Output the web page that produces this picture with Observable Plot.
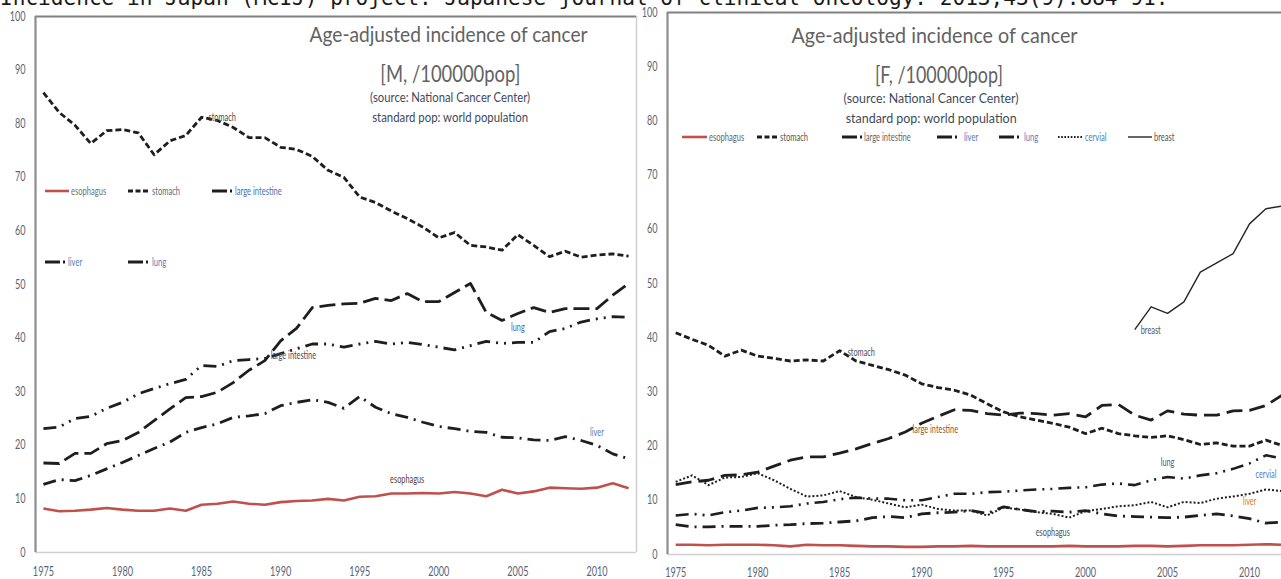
<!DOCTYPE html>
<html><head><meta charset="utf-8">
<script src="https://cdn.jsdelivr.net/npm/d3@7"></script>
<script src="https://cdn.jsdelivr.net/npm/@observablehq/plot@0.6"></script>
<style>
html,body{margin:0;padding:0;overflow:hidden;background:#fff;}
#page{position:relative;width:1281px;height:579px;overflow:hidden;background:#fff;}
.panel{position:absolute;top:0;}
.cite{position:absolute;left:0;top:-13px;font-family:"DejaVu Sans Mono",monospace;font-size:21.1px;line-height:21.1px;white-space:nowrap;color:#1a1a1a;}
.tline{position:absolute;white-space:nowrap;text-align:center;font-family:Lato,"Open Sans",sans-serif;}
.tline span{display:inline-block;transform-origin:50% 50%;}
.leg{position:absolute;display:flex;align-items:center;height:10px;font-family:Lato,sans-serif;font-size:10.5px;white-space:nowrap;}
.leg span{display:inline-block;transform:scaleX(0.72);transform-origin:0 50%;line-height:10px;margin-left:2px;}
.leg svg{display:block;}
</style></head>
<body><div id="page"></div>
<script>
// ---------- data ----------
const years = [1975,1976,1977,1978,1979,1980,1981,1982,1983,1984,1985,1986,1987,1988,1989,1990,1991,1992,1993,1994,1995,1996,1997,1998,1999,2000,2001,2002,2003,2004,2005,2006,2007,2008,2009,2010,2011,2012];
const breastYears = [2003,2004,2005,2006,2007,2008,2009,2010,2011,2012];
const xTicks = [1975,1980,1985,1990,1995,2000,2005,2010];
const yTicks = [0,10,20,30,40,50,60,70,80,90,100];

// Male (per 100,000)
const maleEsophagus = [8.2,7.7,7.8,8.0,8.3,8.0,7.8,7.8,8.2,7.8, 8.9,9.1,9.5,9.1,8.9,9.4,9.6,9.7,10.0,9.7, 10.4,10.5,11.0,11.0,11.1,11.0,11.3,11.0,10.5,11.7, 11.0,11.4,12.1,12.0,11.9,12.1,12.9,12.0];
const maleStomach = [85.8,82.1,79.7,76.3,78.7,78.9,78.3,74.2,76.8,77.8, 81.2,80.6,79.3,77.4,77.4,75.6,75.2,73.9,71.3,70.0, 66.3,65.3,63.7,62.3,60.7,58.7,59.7,57.3,57.0,56.4, 59.3,57.3,55.2,56.2,55.1,55.5,55.7,55.3];
const maleLargeIntestine = [23.1,23.4,25.0,25.4,26.9,28.0,29.6,30.6,31.5,32.3, 34.9,34.7,35.8,36.0,36.2,37.1,38.0,38.9,38.9,38.3, 38.9,39.4,38.9,39.2,38.8,38.3,37.8,38.6,39.4,39.0, 39.2,39.2,41.2,41.8,43.0,43.6,44.0,43.9];
const maleLiver = [12.7,13.6,13.4,14.4,15.6,16.8,18.1,19.4,20.6,22.4, 23.3,24.0,25.2,25.5,25.9,27.4,28.0,28.5,28.0,26.9, 29.1,27.1,25.9,25.2,24.3,23.5,23.1,22.6,22.4,21.5, 21.4,21.0,20.9,21.6,20.9,20.0,18.4,17.5];
const maleLung = [16.7,16.6,18.5,18.5,20.3,20.9,22.4,24.6,26.8,28.9, 29.1,29.9,31.7,34.0,35.8,39.5,41.8,45.7,46.1,46.4, 46.5,47.4,47.0,48.3,46.8,46.8,48.5,50.2,44.8,43.3, 44.6,45.7,44.8,45.5,45.5,45.5,48.0,50.2];

// Female (per 100,000)
const femaleEsophagus = [1.8,1.8,1.7,1.8,1.8,1.8,1.7,1.5,1.8,1.7, 1.7,1.6,1.5,1.5,1.4,1.4,1.5,1.5,1.6,1.5, 1.5,1.5,1.5,1.5,1.6,1.5,1.5,1.5,1.6,1.6, 1.5,1.6,1.7,1.7,1.7,1.8,1.9,1.8];
const femaleStomach = [40.9,39.7,38.6,36.6,37.7,36.6,36.2,35.7,35.9,35.7, 37.6,35.7,34.9,34.1,33.1,31.5,30.8,30.3,29.4,27.8, 26.3,25.4,24.8,24.2,23.5,22.3,23.3,22.3,21.9,21.6, 21.9,21.2,20.3,20.6,20.0,20.0,21.1,20.1];
const femaleLargeIntestine = [12.9,13.4,13.7,14.6,14.7,15.2,16.3,17.4,18.0,18.0, 18.7,19.5,20.5,21.4,22.6,24.2,25.5,26.7,26.6,26.0, 25.7,26.1,26.0,25.7,26.0,25.4,27.5,27.7,25.7,24.8, 26.5,25.9,25.7,25.7,26.5,26.6,27.5,29.4];
const femaleLiver = [5.5,5.1,5.1,5.2,5.2,5.2,5.4,5.5,5.7,5.8, 6.0,6.2,6.8,7.0,6.8,7.5,7.7,7.8,8.1,7.6, 8.8,8.3,7.9,8.0,7.8,8.1,7.5,7.1,7.0,6.9, 6.8,6.9,7.2,7.5,7.1,6.6,5.8,6.0];
const femaleLung = [7.2,7.5,7.2,7.8,8.1,8.6,8.7,8.9,9.4,9.7, 10.2,10.5,10.3,10.3,10.0,10.0,10.6,11.2,11.2,11.5, 11.6,11.8,12.0,12.1,12.3,12.4,12.9,13.1,12.8,13.7, 14.3,14.0,14.6,15.0,15.8,16.8,18.3,17.7];
const femaleCervical = [13.4,14.6,12.8,14.2,14.3,15.0,13.7,12.1,10.7,10.9, 11.7,10.6,10.1,9.4,8.7,9.2,8.4,8.1,8.1,7.2, 8.7,8.3,7.8,7.5,6.8,8.0,8.4,8.9,9.1,9.7, 8.7,9.7,9.5,10.3,10.7,11.2,12.0,11.7];
const femaleBreast = [41.5,45.7,44.5,46.6,52.1,53.8,55.5,61.0,63.8,64.3];

const citation = "Incidence in Japan (MCIJ) project. Japanese journal of clinical oncology. 2013;43(9):884-91.";
const titleM = ["Age-adjusted incidence of cancer", "[M, /100000pop]", "(source: National Cancer Center)", "standard pop: world population"];
const titleF = ["Age-adjusted incidence of cancer", "[F, /100000pop]", "(source: National Cancer Center)", "standard pop: world population"];

// ---------- series definitions ----------
const maleSeries = [
  {key: "esophagus", values: maleEsophagus},
  {key: "stomach", values: maleStomach},
  {key: "large intestine", values: maleLargeIntestine},
  {key: "liver", values: maleLiver},
  {key: "lung", values: maleLung}
];
const femaleSeries = [
  {key: "esophagus", values: femaleEsophagus},
  {key: "stomach", values: femaleStomach},
  {key: "large intestine", values: femaleLargeIntestine},
  {key: "liver", values: femaleLiver},
  {key: "lung", values: femaleLung},
  {key: "cervial", values: femaleCervical},
  {key: "breast", values: femaleBreast, years: breastYears}
];

// ---------- styles ----------
const INK = "#1e1e1e", RED = "#c0504d";
const styleM = {
  "esophagus": {stroke: RED, width: 2.6, dash: null},
  "stomach": {stroke: INK, width: 2.8, dash: "6,3"},
  "large intestine": {stroke: INK, width: 2.8, dash: "13,6,2,6,2,6"},
  "liver": {stroke: INK, width: 2.8, dash: "13,6,2,6"},
  "lung": {stroke: INK, width: 2.8, dash: "16,6"}
};
const styleF = {
  "esophagus": {stroke: RED, width: 2.6, dash: null},
  "stomach": {stroke: INK, width: 2.8, dash: "6,3"},
  "large intestine": {stroke: INK, width: 2.8, dash: "16,7"},
  "liver": {stroke: INK, width: 2.8, dash: "13,6,2,6"},
  "lung": {stroke: INK, width: 2.6, dash: "13,6,2,6,2,6"},
  "cervial": {stroke: INK, width: 2.0, dash: "2,2"},
  "breast": {stroke: "#262626", width: 1.4, dash: null}
};
const legendDash = {
  "esophagus": {stroke: RED, width: 2.6, dash: null},
  "stomach": {stroke: INK, width: 3, dash: "5,2.5"},
  "large intestine": {stroke: INK, width: 3, dash: "15,3,2,20"},
  "liver": {stroke: INK, width: 3, dash: "15,3,2,20"},
  "lung": {stroke: INK, width: 3, dash: "15,3,2,20"},
  "cervial": {stroke: INK, width: 1.8, dash: "1.6,1.6"},
  "breast": {stroke: "#262626", width: 1.4, dash: null}
};

const labelsM = [
  {text: "stomach", key: "stomach", year: 1985, anchor: "start", dx: 7, dy: 0, fill: "#4a4a4a"},
  {text: "lung", key: "lung", year: 2005, anchor: "middle", dx: 0, dy: 14, fill: "#4a68a0"},
  {text: "large intestine", key: "large intestine", year: 1990, anchor: "start", dx: -10, dy: 2, fill: "#3d4c6e"},
  {text: "liver", key: "liver", year: 2010, anchor: "middle", dx: 0, dy: -13, fill: "#4f81bd"},
  {text: "esophagus", key: "esophagus", year: 1998, anchor: "middle", dx: 0, dy: -14, fill: "#5a4035"}
];
const labelsF = [
  {text: "stomach", key: "stomach", year: 1985, anchor: "start", dx: 8, dy: 2, fill: "#505050"},
  {text: "large intestine", key: "large intestine", year: 1990, anchor: "start", dx: -9, dy: 6, fill: "#8a5a3a"},
  {text: "breast", key: "breast", year: 2003, anchor: "start", dx: 6, dy: 1, fill: "#4a5570"},
  {text: "lung", key: "lung", year: 2005, anchor: "middle", dx: 0, dy: -14, fill: "#4d5a85"},
  {text: "cervial", key: "cervial", year: 2011, anchor: "middle", dx: 0, dy: -15, fill: "#4f81bd"},
  {text: "liver", key: "liver", year: 2010, anchor: "middle", dx: 0, dy: -17, fill: "#d98030"},
  {text: "esophagus", key: "esophagus", year: 1998, anchor: "middle", dx: 0, dy: -14, fill: "#505050"}
];

// ---------- helpers ----------
const page = document.getElementById("page");
const xDomain = [years[0] - 0.5, years[years.length - 1] + 0.5];
const rows = (s) => (s.years || years).map((year, i) => ({year, value: s.values[i], key: s.key}));

function squeeze(svg, k) {
  svg.querySelectorAll("text").forEach((t) => {
    const tr = t.getAttribute("transform") || "";
    t.setAttribute("transform", tr + ` scale(${k},1)`);
  });
}

function panel({series, styles, labels, width, height, margins, tickPad}) {
  const lineMarks = series.map((s) => {
    const st = styles[s.key];
    return Plot.line(rows(s), {
      x: "year", y: "value", stroke: st.stroke, strokeWidth: st.width,
      strokeDasharray: st.dash || undefined, strokeLinecap: "butt", strokeLinejoin: "round", curve: "linear"
    });
  });
  const labelMarks = labels.map((L) => {
    const s = series.find((d) => d.key === L.key);
    const pt = rows(s).find((d) => d.year === L.year);
    return Plot.text([pt], {
      x: "year", y: "value", text: () => L.text, textAnchor: L.anchor,
      dx: L.dx, dy: L.dy, fill: L.fill, fontSize: 10.5
    });
  });
  const svg = Plot.plot({
    width, height,
    marginLeft: margins.left, marginRight: margins.right, marginTop: margins.top, marginBottom: margins.bottom,
    style: {background: "transparent", fontFamily: "Lato, 'Open Sans', sans-serif", fontSize: "13px", color: "#56657a", maxWidth: "none", overflow: "visible"},
    x: {domain: xDomain, ticks: xTicks, tickFormat: (d) => String(d), tickSize: 0, tickPadding: tickPad, label: null},
    y: {domain: [0, 100], ticks: yTicks, tickSize: 0, tickPadding: 10, label: null},
    marks: [
      Plot.ruleY([0], {stroke: "#d0d0d0", strokeWidth: 1.5}),
      Plot.ruleX([xDomain[1]], {stroke: "#d0d0d0", strokeWidth: 1.5}),
      Plot.ruleY([100], {stroke: "#808080", strokeWidth: 1.8}),
      Plot.ruleX([xDomain[0]], {stroke: "#8c8c8c", strokeWidth: 2.2}),
      ...lineMarks,
      ...labelMarks
    ]
  });
  squeeze(svg, 0.7);
  return svg;
}

function mount(svg, left, width) {
  const div = document.createElement("div");
  div.className = "panel";
  div.style.left = left + "px";
  div.style.width = width + "px";
  div.appendChild(svg);
  page.appendChild(div);
}

mount(panel({series: maleSeries, styles: styleM, labels: labelsM, width: 640, height: 579,
  margins: {left: 35, right: 4, top: 16, bottom: 27}, tickPad: 14}), 0, 640);
mount(panel({series: femaleSeries, styles: styleF, labels: labelsF, width: 650, height: 579,
  margins: {left: 27, right: 0, top: 12, bottom: 25}, tickPad: 13}), 640, 650);

// ---------- titles (HTML overlay) ----------
const fitters = [];
const titleLayoutM = [
  {cx: 449, baseline: 42, size: 21, width: 278, color: "#626262"},
  {cx: 450, baseline: 82, size: 24, width: 140, color: "#626262"},
  {cx: 450, baseline: 103, size: 13, width: 160, color: "#3f4a5a"},
  {cx: 450, baseline: 123, size: 13, width: 156, color: "#3f4a5a"}
];
const titleLayoutF = [
  {cx: 935, baseline: 43, size: 21, width: 286, color: "#626262"},
  {cx: 939, baseline: 83, size: 24, width: 128, color: "#626262"},
  {cx: 931, baseline: 104, size: 13, width: 175, color: "#3f4a5a"},
  {cx: 931, baseline: 124, size: 13, width: 171, color: "#3f4a5a"}
];
function addTitle(lines, layout) {
  lines.forEach((txt, i) => {
    const L = layout[i];
    const div = document.createElement("div");
    div.className = "tline";
    div.style.left = (L.cx - 300) + "px";
    div.style.width = "600px";
    div.style.fontSize = L.size + "px";
    div.style.lineHeight = L.size + "px";
    div.style.top = (L.baseline - 0.887 * L.size) + "px";
    div.style.color = L.color;
    const span = document.createElement("span");
    span.textContent = txt;
    div.appendChild(span);
    page.appendChild(div);
    fitters.push(() => {
      span.style.transform = "none";
      const w = span.getBoundingClientRect().width;
      if (w > 0) span.style.transform = `scaleX(${L.width / w})`;
    });
  });
}
addTitle(titleM, titleLayoutM);
addTitle(titleF, titleLayoutF);

// ---------- legends (HTML overlay) ----------
const legendM = [
  {key: "esophagus", x: 45, y: 191, sw: 24, color: "#707070"},
  {key: "stomach", x: 128, y: 191, sw: 22, color: "#5d6b7d"},
  {key: "large intestine", x: 212, y: 191, sw: 21, color: "#4f6fa5"},
  {key: "liver", x: 45, y: 262, sw: 21, color: "#4f81bd"},
  {key: "lung", x: 128, y: 262, sw: 22, color: "#4f81bd"}
];
const legendF = [
  {key: "esophagus", x: 682, y: 137, sw: 25, color: "#666666"},
  {key: "stomach", x: 757, y: 137, sw: 21, color: "#555555"},
  {key: "large intestine", x: 842, y: 137, sw: 20, color: "#666666"},
  {key: "liver", x: 937, y: 137, sw: 25, color: "#4f81bd"},
  {key: "lung", x: 999, y: 137, sw: 23, color: "#4f81bd"},
  {key: "cervial", x: 1058, y: 137, sw: 25, color: "#4f81bd"},
  {key: "breast", x: 1128, y: 137, sw: 24, color: "#555555"}
];
function addLegend(items) {
  items.forEach((it) => {
    const st = legendDash[it.key];
    const div = document.createElement("div");
    div.className = "leg";
    div.style.left = it.x + "px";
    div.style.top = (it.y - 5) + "px";
    const svg = d3.create("svg").attr("width", it.sw).attr("height", 6);
    svg.append("line").attr("x1", 0).attr("x2", it.sw).attr("y1", 3).attr("y2", 3)
      .attr("stroke", st.stroke).attr("stroke-width", st.width)
      .attr("stroke-dasharray", st.dash).attr("stroke-linecap", "butt");
    div.appendChild(svg.node());
    const span = document.createElement("span");
    span.textContent = it.key;
    span.style.color = it.color;
    div.appendChild(span);
    page.appendChild(div);
  });
}
addLegend(legendM);
addLegend(legendF);

// ---------- citation line cut off at the top ----------
const cite = document.createElement("div");
cite.className = "cite";
cite.textContent = citation;
page.appendChild(cite);

fitters.forEach((f) => f());
if (document.fonts && document.fonts.ready) document.fonts.ready.then(() => fitters.forEach((f) => f()));
</script></body></html>
